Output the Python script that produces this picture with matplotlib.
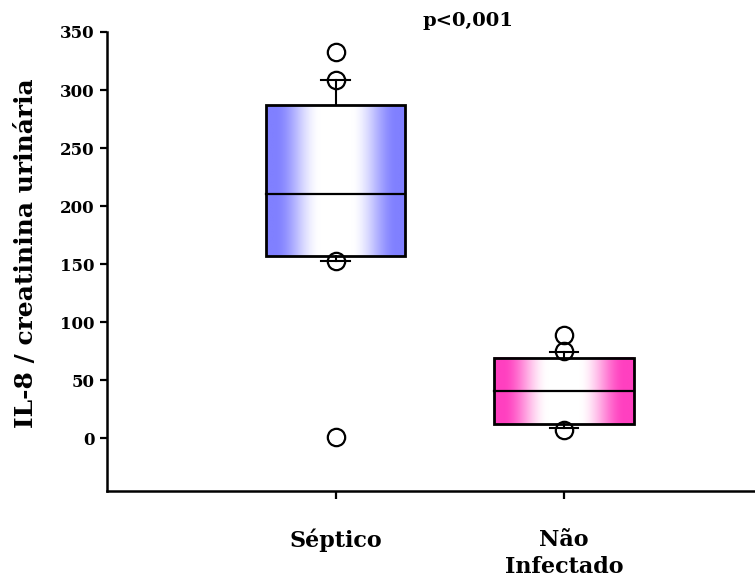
import numpy as np
import matplotlib
matplotlib.use("Agg")
import matplotlib.pyplot as plt
from matplotlib.patches import Rectangle

# ---- data ----
groups = ["Séptico", "Não\nInfectado"]
q1 = [157, 12]
median = [210, 41]
q3 = [287, 69]
whisk_lo = [153, 9]
whisk_hi = [309, 74]
outliers = [[333, 309, 153, 1], [89, 75, 7]]
yticks = [0, 50, 100, 150, 200, 250, 300, 350]
edge_colors = [(128/255, 128/255, 1.0), (1.0, 64/255, 192/255)]

plt.rcParams['font.family'] = ['DejaVu Serif']
plt.rcParams['font.weight'] = 'bold'

fig = plt.figure(figsize=(7.55, 5.82), dpi=100)
ax = fig.add_axes([107/755, 1 - 491/582, 1 - 107/755, (491 - 32)/582])

ax.set_xlim(0, 2.835)
ax.set_ylim(-45.6, 350)

box_w = 0.61
cap_w = 0.125
positions = [1, 2]

for i, pos in enumerate(positions):
    # gradient fill
    n = 256
    xs = np.linspace(0, 1, n)
    t = np.abs(xs - 0.5) * 2
    u = np.clip((t - 0.22) / 0.66, 0, 1)
    f = u * u * (3 - 2 * u)
    ec = np.array(edge_colors[i])
    cols = 1 - (1 - ec)[None, :] * f[:, None]
    img = cols[None, :, :]
    ax.imshow(img, extent=[pos - box_w/2, pos + box_w/2, q1[i], q3[i]],
              aspect='auto', zorder=2, interpolation='bilinear')
    ax.add_patch(Rectangle((pos - box_w/2, q1[i]), box_w, q3[i] - q1[i],
                           fill=False, edgecolor='black', lw=2.0, zorder=3))
    ax.plot([pos - box_w/2, pos + box_w/2], [median[i], median[i]],
            color='black', lw=1.6, zorder=3)
    # whiskers
    ax.plot([pos, pos], [q3[i], whisk_hi[i]], color='black', lw=1.5, zorder=3)
    ax.plot([pos, pos], [q1[i], whisk_lo[i]], color='black', lw=1.5, zorder=3)
    for w in (whisk_hi[i], whisk_lo[i]):
        ax.plot([pos - cap_w/2, pos + cap_w/2], [w, w], color='black', lw=1.5, zorder=3)
    # points
    ax.plot([pos] * len(outliers[i]), outliers[i], 'o', ms=12.5, mfc='none',
            mec='black', mew=1.6, zorder=4)

ax.set_xticks(positions)
ax.set_xticklabels(groups, fontsize=16, fontweight='bold', linespacing=1.3)
ax.set_yticks(yticks)
ax.set_yticklabels([str(v) for v in yticks], fontsize=12, fontweight='bold')

for s in ['top', 'right']:
    ax.spines[s].set_visible(False)
for s in ['left', 'bottom']:
    ax.spines[s].set_linewidth(1.8)
ax.spines['left'].set_bounds(-45.6, 350)
ax.tick_params(axis='y', direction='out', length=5, width=1.6, pad=4)
ax.tick_params(axis='x', direction='out', length=6, width=1.6, pad=21)

fig.text(26/755, 1 - 253/582, "IL-8 / creatinina urinária", rotation=90,
         ha='center', va='center', fontsize=18, fontweight='bold')
fig.text(468/755, 1 - 21/582, "p<0,001", ha='center', va='center',
         fontsize=14, fontweight='bold')

fig.savefig("out.png", dpi=100)
